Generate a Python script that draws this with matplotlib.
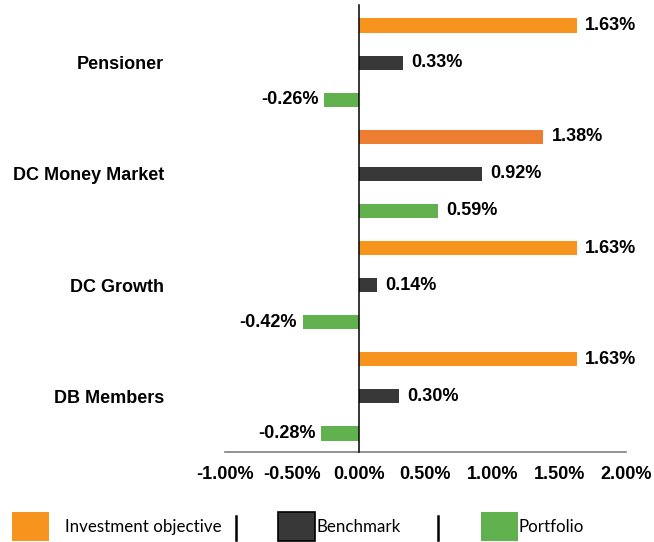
import matplotlib
matplotlib.use("Agg")
import matplotlib.pyplot as plt
from matplotlib.patches import Rectangle
from matplotlib.lines import Line2D
import numpy as np

categories = ["Pensioner", "DC Money Market", "DC Growth", "DB Members"]
series_names = ["Investment objective", "Benchmark", "Portfolio"]
objective = [1.63, 1.38, 1.63, 1.63]
benchmark = [0.33, 0.92, 0.14, 0.30]
portfolio = [-0.26, 0.59, -0.42, -0.28]
xticks = [-1.0, -0.5, 0.0, 0.5, 1.0, 1.5, 2.0]

c_obj = "#F7941D"
c_obj_alt = "#ED7D31"
c_bench = "#383838"
c_port = "#62B14F"
obj_colors = [c_obj, c_obj_alt, c_obj, c_obj]

W, H = 654, 542
fig = plt.figure(figsize=(W / 100, H / 100), dpi=100)
ax = fig.add_axes([225 / W, (H - 452) / H, (626 - 225) / W, (452 - 7) / H])

bold = dict(family="Liberation Sans", fontweight="bold", fontsize=13)

series = [objective, benchmark, portfolio]
colors = [obj_colors, [c_bench] * 4, [c_port] * 4]
bh = 0.38
for j, (vals, cols) in enumerate(zip(series, colors)):
    pos = [i * 3 + j for i in range(len(categories))]
    ax.barh(pos, vals, height=bh, color=cols, zorder=2)
    for p, v in zip(pos, vals):
        if v >= 0:
            ax.annotate(f"{v:.2f}%", (v, p), xytext=(6, 0), textcoords="offset points",
                        ha="left", va="center", **bold)
        else:
            ax.annotate(f"{v:.2f}%", (v, p), xytext=(-4, 0), textcoords="offset points",
                        ha="right", va="center", **bold)

ax.set_xlim(-1.0, 2.0)
ax.set_ylim(11.5, -0.5)
ax.set_xticks(xticks)
ax.set_xticklabels([f"{t:.2f}%" for t in xticks], **bold)
ax.set_yticks([i * 3 + 1 for i in range(len(categories))])
ax.set_yticklabels(categories, **bold)
ax.tick_params(axis="y", length=0, pad=44)
ax.tick_params(axis="x", length=0, pad=10)
for s in ["top", "right", "left"]:
    ax.spines[s].set_visible(False)
ax.spines["bottom"].set_color("#808080")
ax.spines["bottom"].set_linewidth(1.2)
ax.plot([0, 0], [0, 1.005], transform=ax.get_xaxis_transform(), color="black",
        lw=1.1, clip_on=False, zorder=3)

# legend
def fx(x):
    return x / W

def fy(y):
    return (H - y) / H

leg_font = dict(family="Lato", fontsize=12.2, va="center", ha="left", color="#000000")
items = [
    (12, c_obj, None, 65, series_names[0], 236),
    (278, c_bench, "black", 316, series_names[1], 438),
    (481, c_port, None, 519, series_names[2], None),
]
for bx, col, ec, tx, label, sep in items:
    r = Rectangle((fx(bx), fy(541)), fx(37), 29 / H, transform=fig.transFigure,
                  facecolor=col, edgecolor=ec if ec else col, lw=1.2 if ec else 0)
    fig.add_artist(r)
    fig.text(fx(tx), fy(527), label, **leg_font)
    if sep:
        fig.add_artist(Line2D([fx(sep), fx(sep)], [fy(540), fy(516)], transform=fig.transFigure,
                              color="black", lw=1.8))

fig.savefig("out.png", dpi=100)
